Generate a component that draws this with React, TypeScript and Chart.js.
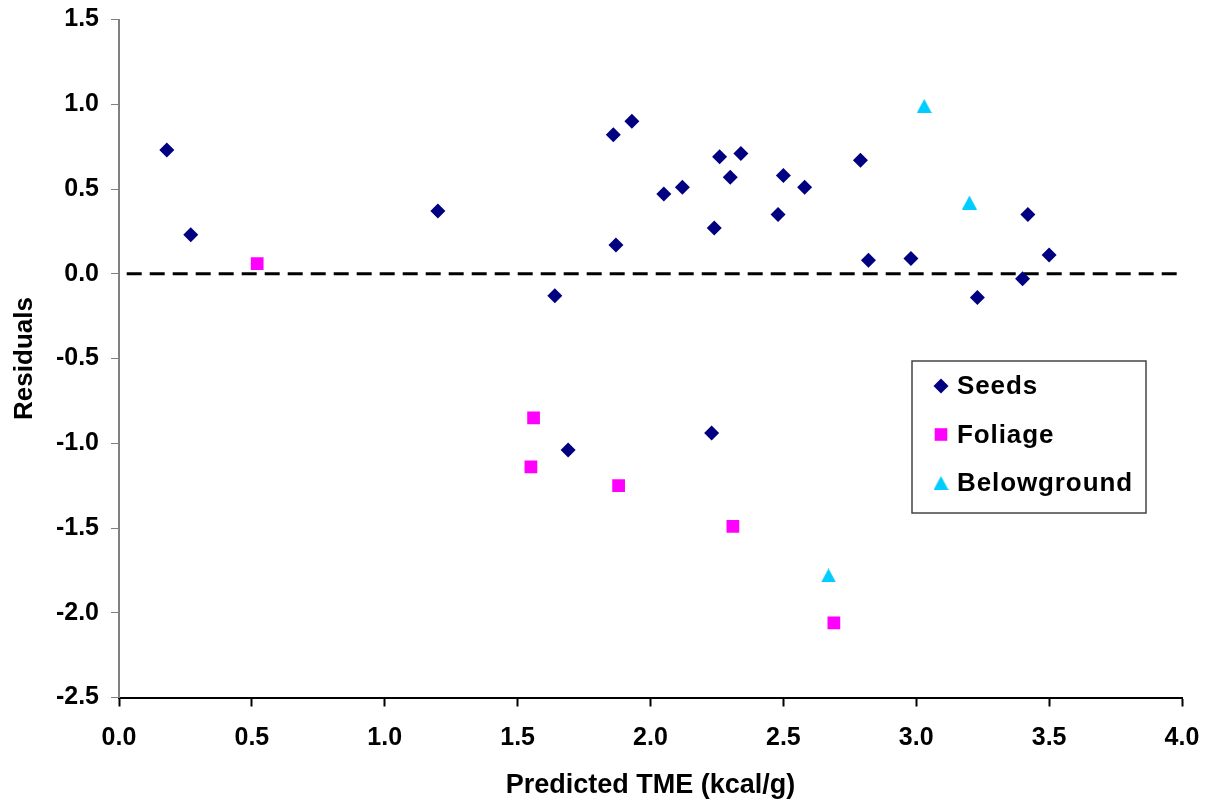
import React, { useEffect, useRef } from 'react';
import { Chart, registerables } from 'chart.js';

Chart.register(...registerables);

// Predicted TME (kcal/g) and residuals for each sample group
const seedsX = [0.18, 0.27, 1.2, 1.64, 1.86, 1.93, 1.87, 2.05, 2.12, 2.24, 2.26, 2.3, 2.34, 2.48, 2.5, 2.58, 2.79, 2.82, 2.98, 3.23, 3.4, 3.42, 3.5, 1.69, 2.23];
const seedsY = [0.73, 0.23, 0.37, -0.13, 0.82, 0.9, 0.17, 0.47, 0.51, 0.27, 0.69, 0.57, 0.71, 0.35, 0.58, 0.51, 0.67, 0.08, 0.09, -0.14, -0.03, 0.35, 0.11, -1.04, -0.94];

const foliageX = [0.52, 1.56, 1.55, 1.88, 2.31, 2.69];
const foliageY = [0.06, -0.85, -1.14, -1.25, -1.49, -2.06];

const belowX = [3.03, 3.2, 2.67];
const belowY = [0.99, 0.42, -1.78];

// Zero-residual reference line
const refLineX = [0, 4];
const refLineY = [0, 0];

const seriesNames = ['Seeds', 'Foliage', 'Belowground'];
const seriesColors = ['#000080', '#FF00FF', '#00CCFF'];

const xTickValues = [0, 0.5, 1, 1.5, 2, 2.5, 3, 3.5, 4];
const yTickValues = [-2.5, -2, -1.5, -1, -0.5, 0, 0.5, 1, 1.5];

const FONT = "'Liberation Sans', Arial, Helvetica, sans-serif";

const toPoints = (xs: number[], ys: number[]) => xs.map((x, i) => ({ x, y: ys[i] }));

// Upright triangle marker whose bounding box is centred on the point
function makeTriangle(color: string, w: number, h: number): HTMLCanvasElement {
  const c = document.createElement('canvas');
  c.width = w;
  c.height = h;
  const ctx = c.getContext('2d')!;
  ctx.fillStyle = color;
  ctx.beginPath();
  ctx.moveTo(w / 2, 0);
  ctx.lineTo(w, h);
  ctx.lineTo(0, h);
  ctx.closePath();
  ctx.fill();
  return c;
}

function drawMarker(ctx: CanvasRenderingContext2D, kind: number, x: number, y: number, tri: HTMLCanvasElement) {
  ctx.save();
  ctx.fillStyle = seriesColors[kind];
  ctx.beginPath();
  if (kind === 0) {
    const r = 7.5;
    ctx.moveTo(x, y - r);
    ctx.lineTo(x + r, y);
    ctx.lineTo(x, y + r);
    ctx.lineTo(x - r, y);
    ctx.closePath();
    ctx.fill();
  } else if (kind === 1) {
    const s = 6.3;
    ctx.rect(x - s, y - s, 2 * s, 2 * s);
    ctx.fill();
  } else {
    ctx.drawImage(tri, x - tri.width / 2, y - tri.height / 2);
  }
  ctx.restore();
}

export default function App() {
  const canvasRef = useRef<HTMLCanvasElement | null>(null);

  useEffect(() => {
    const canvas = canvasRef.current;
    if (!canvas) return;
    const tri = makeTriangle(seriesColors[2], 15, 14);

    // Boxed legend drawn inside the plot area, on the right
    const boxedLegend = {
      id: 'boxedLegend',
      afterDatasetsDraw(chart: any) {
        const ctx: CanvasRenderingContext2D = chart.ctx;
        const left = 912;
        const top = 361;
        const width = 234;
        const height = 152;
        ctx.save();
        ctx.fillStyle = '#ffffff';
        ctx.fillRect(left, top, width, height);
        ctx.strokeStyle = '#444444';
        ctx.lineWidth = 1.5;
        ctx.strokeRect(left, top, width, height);
        ctx.font = `bold 26px ${FONT}`;
        (ctx as any).letterSpacing = '0.9px';
        ctx.textBaseline = 'middle';
        ctx.textAlign = 'left';
        seriesNames.forEach((name, i) => {
          const cy = top + 25 + i * 48.5;
          drawMarker(ctx, i, left + 29, cy, tri);
          ctx.fillStyle = '#000000';
          ctx.fillText(name, left + 45, cy + 1);
        });
        ctx.restore();
      },
    };

    const chart = new Chart(canvas, {
      type: 'scatter',
      data: {
        datasets: [
          {
            label: seriesNames[0],
            data: toPoints(seedsX, seedsY),
            pointStyle: 'rectRot',
            pointRadius: 7.5,
            pointHoverRadius: 7.5,
            pointBorderWidth: 0,
            backgroundColor: seriesColors[0],
            borderColor: seriesColors[0],
            order: 3,
          },
          {
            label: seriesNames[1],
            data: toPoints(foliageX, foliageY),
            pointStyle: 'rect',
            pointRadius: 9,
            pointHoverRadius: 9,
            pointBorderWidth: 0,
            backgroundColor: seriesColors[1],
            borderColor: seriesColors[1],
            order: 2,
          },
          {
            label: seriesNames[2],
            data: toPoints(belowX, belowY),
            pointStyle: tri as any,
            pointRadius: 8,
            pointBorderWidth: 0,
            backgroundColor: seriesColors[2],
            borderColor: seriesColors[2],
            order: 1,
          },
          {
            label: 'zero',
            data: toPoints(refLineX, refLineY),
            showLine: true,
            pointRadius: 0,
            borderColor: '#000000',
            borderWidth: 3,
            borderDash: [15, 8],
            borderDashOffset: 15.3,
            order: 10,
          } as any,
        ],
      },
      options: {
        responsive: false,
        animation: false,
        devicePixelRatio: 1,
        layout: { padding: { left: 0, top: 19.5, right: 31, bottom: 0 } },
        plugins: {
          legend: { display: false },
          tooltip: { enabled: false },
        },
        scales: {
          x: {
            type: 'linear',
            min: 0,
            max: 4,
            afterFit: (scale: any) => {
              scale.height = 107.5;
              scale.paddingLeft = 0;
              scale.paddingRight = 0;
            },
            afterBuildTicks: (scale: any) => {
              scale.ticks = xTickValues.map((v) => ({ value: v }));
            },
            ticks: {
              color: '#000000',
              font: { family: FONT, size: 25, weight: 'bold' },
              padding: 17,
              maxRotation: 0,
              callback: (v: any) => Number(v).toFixed(1),
            },
            grid: {
              drawOnChartArea: false,
              drawTicks: true,
              tickLength: 9,
              tickColor: '#000000',
              tickWidth: 2,
            },
            border: { display: true, color: '#000000', width: 2 },
            title: {
              display: true,
              text: 'Predicted TME (kcal/g)',
              color: '#000000',
              font: { family: FONT, size: 27, weight: 'bold' },
              padding: { top: 0, bottom: 3 },
            },
          },
          y: {
            type: 'linear',
            min: -2.5,
            max: 1.5,
            afterFit: (scale: any) => {
              scale.width = 119;
              scale.paddingTop = 0;
              scale.paddingBottom = 0;
            },
            afterBuildTicks: (scale: any) => {
              scale.ticks = yTickValues.map((v) => ({ value: v }));
            },
            ticks: {
              color: '#000000',
              font: { family: FONT, size: 25, weight: 'bold' },
              padding: 12,
              callback: (v: any) => Number(v).toFixed(1),
            },
            grid: {
              drawOnChartArea: false,
              drawTicks: true,
              tickLength: 8,
              tickColor: '#808080',
              tickWidth: 1,
            },
            border: { display: true, color: '#808080', width: 2 },
            title: {
              display: true,
              text: 'Residuals',
              color: '#000000',
              font: { family: FONT, size: 26, weight: 'bold' },
              padding: { top: 9, bottom: 0 },
            },
          },
        },
      },
      plugins: [boxedLegend],
    } as any);

    return () => {
      chart.destroy();
    };
  }, []);

  return (
    <div style={{ position: 'fixed', left: 0, top: 0, width: 1213, height: 805, background: '#ffffff' }}>
      <canvas ref={canvasRef} width={1213} height={805} style={{ display: 'block' }} />
    </div>
  );
}
